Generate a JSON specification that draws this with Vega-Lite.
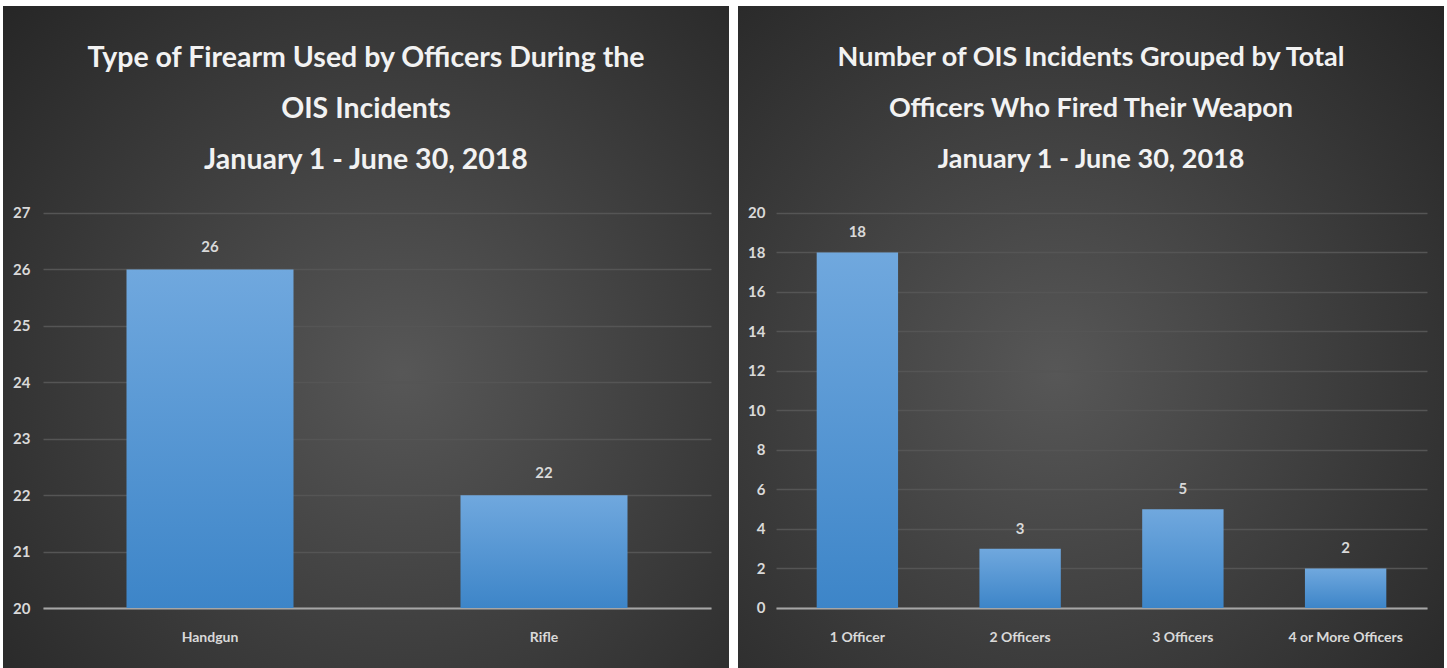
{
  "$schema": "https://vega.github.io/schema/vega-lite/v6.json",
  "background": "#ffffff",
  "padding": {"left": 3, "top": 6, "right": 3, "bottom": 0},
  "spacing": 9,
  "config": {
    "font": "Lato",
    "title": {"font": "Lato", "color": "#f2f2f2", "fontSize": 28, "fontWeight": "bold", "lineHeight": 51, "anchor": "middle", "frame": "group", "offset": -168},
    "axis": {"labelFont": "Lato", "labelColor": "#d9d9d9", "labelFontWeight": "bold", "labelFontSize": 14, "ticks": false, "tickSize": 0, "title": null}
  },
  "hconcat": [
    {
      "width": 726,
      "height": 662,
      "view": {"stroke": null, "fill": {"gradient": "radial", "x1": 0.55, "y1": 0.55, "r1": 0, "x2": 0.55, "y2": 0.55, "r2": 0.75, "stops": [{"offset": 0, "color": "#575757"}, {"offset": 1, "color": "#262626"}]}},
      "title": {"text": ["Type of Firearm Used by Officers During the", "OIS Incidents", "January 1 - June 30, 2018"], "fontSize": 28.5},
      "data": {"values": [{"type": "Handgun", "count": 26}, {"type": "Rifle", "count": 22}]},
      "encoding": {
        "x": {"field": "type", "type": "nominal", "sort": null, "scale": {"range": [40, 708], "paddingInner": 0.5, "paddingOuter": 0.25}, "axis": {"labelAngle": 0, "offset": -60, "labelPadding": 22, "domainColor": "#a6a6a6", "domainWidth": 2, "grid": false}},
        "y": {"field": "count", "type": "quantitative", "scale": {"domain": [18.937, 30.668], "nice": false, "zero": false}, "axis": {"values": [20, 21, 22, 23, 24, 25, 26, 27], "offset": -40, "labelPadding": 13, "labelFontSize": 15, "domain": false, "grid": true, "gridColor": "#555555", "gridWidth": 1.5}}
      },
      "layer": [
        {"mark": {"type": "bar", "color": {"gradient": "linear", "x1": 0, "y1": 0, "x2": 0, "y2": 1, "stops": [{"offset": 0, "color": "#70a8de"}, {"offset": 1, "color": "#3d85c8"}]}}, "encoding": {"y2": {"datum": 20}}},
        {"mark": {"type": "text", "dy": -22, "baseline": "middle", "color": "#d9d9d9", "fontSize": 15, "fontWeight": "bold", "font": "Lato"}, "encoding": {"text": {"field": "count", "type": "quantitative"}}}
      ]
    },
    {
      "width": 706,
      "height": 662,
      "view": {"stroke": null, "fill": {"gradient": "radial", "x1": 0.45, "y1": 0.55, "r1": 0, "x2": 0.45, "y2": 0.55, "r2": 0.75, "stops": [{"offset": 0, "color": "#575757"}, {"offset": 1, "color": "#262626"}]}},
      "title": {"text": ["Number of OIS Incidents Grouped by Total", "Officers Who Fired Their Weapon", "January 1 - June 30, 2018"], "fontSize": 27},
      "data": {"values": [{"group": "1 Officer", "count": 18}, {"group": "2 Officers", "count": 3}, {"group": "3 Officers", "count": 5}, {"group": "4 or More Officers", "count": 2}]},
      "encoding": {
        "x": {"field": "group", "type": "nominal", "sort": null, "scale": {"range": [38, 689], "paddingInner": 0.5, "paddingOuter": 0.25}, "axis": {"labelAngle": 0, "offset": -60, "labelPadding": 22, "domainColor": "#a6a6a6", "domainWidth": 2, "grid": false}},
        "y": {"field": "count", "type": "quantitative", "scale": {"domain": [-3.038, 30.481], "nice": false, "zero": false}, "axis": {"values": [0, 2, 4, 6, 8, 10, 12, 14, 16, 18, 20], "offset": -38, "labelPadding": 11, "labelFontSize": 15, "domain": false, "grid": true, "gridColor": "#555555", "gridWidth": 1.5}}
      },
      "layer": [
        {"mark": {"type": "bar", "color": {"gradient": "linear", "x1": 0, "y1": 0, "x2": 0, "y2": 1, "stops": [{"offset": 0, "color": "#70a8de"}, {"offset": 1, "color": "#3d85c8"}]}}, "encoding": {"y2": {"datum": 0}}},
        {"mark": {"type": "text", "dy": -20, "baseline": "middle", "color": "#d9d9d9", "fontSize": 15, "fontWeight": "bold", "font": "Lato"}, "encoding": {"text": {"field": "count", "type": "quantitative"}}}
      ]
    }
  ]
}
